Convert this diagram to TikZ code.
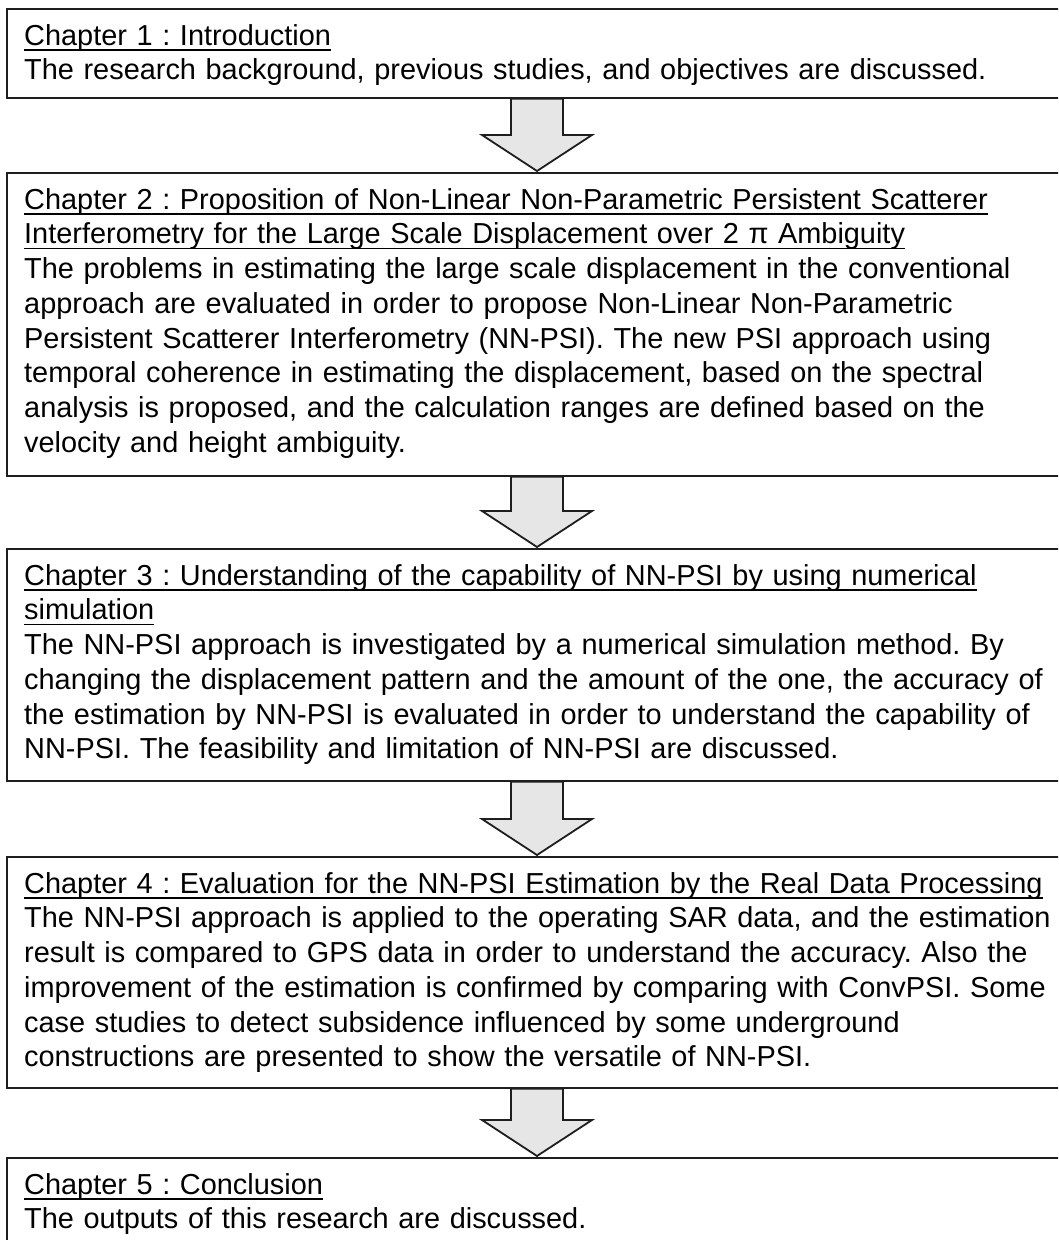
\documentclass[tikz,border=0pt]{standalone}
\usepackage{fontspec}
\setmainfont{Liberation Sans}
\usetikzlibrary{calc}

\definecolor{arrowfill}{RGB}{230,230,230}
\definecolor{edge}{RGB}{30,30,30}

% underlined heading line with a fixed rule just below the baseline
\newcommand\headline[1]{\leavevmode\setbox0\hbox{#1}\rlap{\rule[-5.4pt]{\wd0}{1.8pt}}\box0}
% strut that fixes the first baseline 30pt below the top of a text block
\newcommand\firststrut{\leavevmode\rule{0pt}{30pt}}

\tikzset{
  chapbox/.style={draw=edge, line width=1.8pt, rectangle, inner sep=0pt,
    minimum width=1069pt, anchor=north west},
  chaptext/.style={anchor=north west, inner sep=0pt, text width=1040pt, align=left,
    font={\fontsize{28.9}{34.7}\selectfont\parindent=0pt\frenchspacing}},
  bigarrow/.style={draw=edge, line width=1.8pt, fill=arrowfill, line join=miter},
}

% block arrow from the bottom of one chapter box to the top of the next
\newcommand\flowarrow[2]{%
  \draw[bigarrow] let \p1=(#1.south west), \p2=(#2.north west) in
    ({511pt},{\y1}) -- ({511pt},{\y2+37pt}) -- ({482pt},{\y2+37pt})
    -- ({537pt},{\y2+1pt}) -- ({592pt},{\y2+37pt}) -- ({563pt},{\y2+37pt})
    -- ({563pt},{\y1}) -- cycle;}

\begin{document}
\begin{tikzpicture}
\useasboundingbox (0,0) rectangle (1058pt,-1240pt);
\clip (0,0) rectangle (1058pt,-1240pt);
\fill[white] (0,0) rectangle (1058pt,-1240pt);

% chapter boxes
\node[chapbox, minimum height=89pt]  (c1) at (6pt,-8pt) {};
\node[chapbox, minimum height=303pt] (c2) at (6pt,-172pt) {};
\node[chapbox, minimum height=232pt] (c3) at (6pt,-548pt) {};
\node[chapbox, minimum height=231pt] (c4) at (6pt,-856pt) {};
\node[chapbox, minimum height=110pt] (c5) at (6pt,-1157pt) {};

% chapter texts
\node[chaptext] (t1) at ($(c1.north west)+(18pt,-7pt)$) {\firststrut\headline{Chapter 1 : Introduction}\\
The research background, previous studies, and objectives are discussed.};

\node[chaptext] (t2) at ($(c2.north west)+(18pt,-7pt)$) {\firststrut\headline{Chapter 2 : Proposition of Non-Linear Non-Parametric Persistent Scatterer}\\
\headline{Interferometry for the Large Scale Displacement over 2 π Ambiguity}\\
The problems in estimating the large scale displacement in the conventional\\
approach are evaluated in order to propose Non-Linear Non-Parametric\\
Persistent Scatterer Interferometry (NN-PSI). The new PSI approach using\\
temporal coherence in estimating the displacement, based on the spectral\\
analysis is proposed, and the calculation ranges are defined based on the\\
velocity and height ambiguity.};

\node[chaptext] (t3) at ($(c3.north west)+(18pt,-7pt)$) {\firststrut\headline{Chapter 3 : Understanding of the capability of NN-PSI by using numerical}\\
\headline{simulation}\\
The NN-PSI approach is investigated by a numerical simulation method. By\\
changing the displacement pattern and the amount of the one, the accuracy of\\
the estimation by NN-PSI is evaluated in order to understand the capability of\\
NN-PSI. The feasibility and limitation of NN-PSI are discussed.};

\node[chaptext] (t4) at ($(c4.north west)+(18pt,-7pt)$) {\firststrut\headline{Chapter 4 : Evaluation for the NN-PSI Estimation by the Real Data Processing}\\
The NN-PSI approach is applied to the operating SAR data, and the estimation\\
result is compared to GPS data in order to understand the accuracy. Also the\\
improvement of the estimation is confirmed by comparing with ConvPSI. Some\\
case studies to detect subsidence influenced by some underground\\
constructions are presented to show the versatile of NN-PSI.};

\node[chaptext] (t5) at ($(c5.north west)+(18pt,-7pt)$) {\firststrut\headline{Chapter 5 : Conclusion}\\
The outputs of this research are discussed.};

% block arrows between chapters
\flowarrow{c1}{c2}
\flowarrow{c2}{c3}
\flowarrow{c3}{c4}
\flowarrow{c4}{c5}
\end{tikzpicture}
\end{document}
